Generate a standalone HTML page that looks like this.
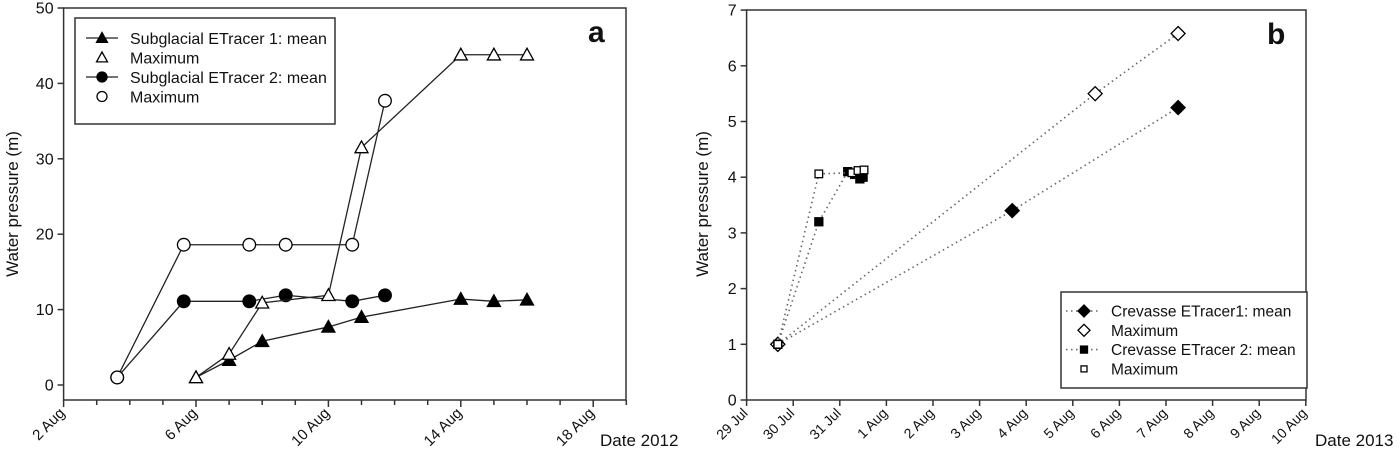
<!DOCTYPE html>
<html><head><meta charset="utf-8"><style>
body{margin:0;background:#fff;}
svg text{font-family:"Liberation Sans",Arial,sans-serif;fill:#111;}
</style></head><body>
<svg width="1400" height="458" viewBox="0 0 1400 458" xmlns="http://www.w3.org/2000/svg">
<g id="pa"></g>
<g id="pb"></g>
</svg>
<script>
// Panel a data (x = day of Aug 2012)
const aTickDays = [2,6,10,14,18];
const aTickLabels = ["2 Aug","6 Aug","10 Aug","14 Aug","18 Aug"];
const aYTicks = [0,10,20,30,40,50];
const t1MeanX = [6,7,8,10,11,14,15,16];
const t1MeanY = [1,3.3,5.8,7.7,9.0,11.4,11.1,11.3];
const t1MaxX = [6,7,8,10,11,14,15,16];
const t1MaxY = [1,4.1,10.9,11.9,31.5,43.8,43.8,43.8];
const t2MeanX = [3.62,5.63,7.61,8.71,10.72,11.71];
const t2MeanY = [1,11.1,11.1,11.9,11.1,11.9];
const t2MaxX = [3.62,5.63,7.61,8.71,10.72,11.71];
const t2MaxY = [1,18.6,18.6,18.6,18.6,37.7];
// Panel b data (x = days since 29 Jul 2013)
const bTickLabels = ["29 Jul","30 Jul","31 Jul","1 Aug","2 Aug","3 Aug","4 Aug","5 Aug","6 Aug","7 Aug","8 Aug","9 Aug","10 Aug"];
const bYTicks = [0,1,2,3,4,5,6,7];
const c1MeanX = [0.67,5.7,9.26];
const c1MeanY = [1,3.4,5.25];
const c1MaxX = [0.67,7.48,9.26];
const c1MaxY = [1,5.5,6.58];
const c2MeanX = [0.67,1.55,2.17,2.32,2.43,2.5];
const c2MeanY = [1,3.2,4.1,4.05,3.97,4.0];
const c2MaxX = [0.67,1.55,2.26,2.39,2.52];
const c2MaxY = [1,4.06,4.08,4.12,4.13];

const NS="http://www.w3.org/2000/svg";
function mk(parent,tag,attrs,text){const e=document.createElementNS(NS,tag);for(const k in attrs)e.setAttribute(k,attrs[k]);if(text!==undefined)e.textContent=text;parent.appendChild(e);return e;}

// ---- Panel a
const pa=document.getElementById('pa');
const axL=63.6, axT=8, axR=626, axB=400;
const ax=d=>axL+(d-2)*33.1;
const ay=v=>385-v*7.54;
let fr=mk(pa,'rect',{x:axL,y:axT,width:axR-axL,height:axB-axT,fill:'none',stroke:'#333','stroke-width':1.5});

aYTicks.forEach(v=>{mk(pa,'line',{x1:axL-6,x2:axL,y1:ay(v),y2:ay(v),stroke:'#333','stroke-width':1.5});
 const t=mk(pa,'text',{x:axL-10,y:ay(v)+5.5,'font-size':16,'text-anchor':'end'},v);
 });
for(let d=2;d<=19;d++){mk(pa,'line',{x1:ax(d),x2:ax(d),y1:axB,y2:axB+(d%4==2?7:5),stroke:'#333','stroke-width':1.5});}
aTickDays.forEach((d,i)=>{const t=mk(pa,'text',{x:ax(d)+2,y:axB+14,'font-size':15,'text-anchor':'end',transform:`rotate(-45 ${ax(d)+2} ${axB+14})`},aTickLabels[i]);
 });
let tt=mk(pa,'text',{x:18,y:204,'font-size':17,'text-anchor':'middle',transform:'rotate(-90 18 204)'},'Water pressure (m)');

tt=mk(pa,'text',{x:600,y:446,'font-size':17},'Date 2012');

tt=mk(pa,'text',{x:588,y:42,'font-size':30,'font-weight':'bold'},'a');


function tri(g,x,y,fill,s){return mk(g,'polygon',{points:`${x},${y-s} ${x-s},${y+s*0.8} ${x+s},${y+s*0.8}`,fill:fill,stroke:'#000','stroke-width':1.3});}
function circ(g,x,y,fill,r){return mk(g,'circle',{cx:x,cy:y,r:r,fill:fill,stroke:'#000','stroke-width':1.3});}
function series(par,name,xs,ys,fx,fy,dash,marker){const g=mk(par,'g',{});
 
 const pts=xs.map((x,i)=>fx(x)+','+fy(ys[i])).join(' ');
 const pl=mk(g,'polyline',{points:pts,fill:'none',stroke:dash?'#666':'#222','stroke-width':dash?1.6:1.3,'stroke-dasharray':dash?'1.5 3.5':'none'});
 
 xs.forEach((x,i)=>{const m=marker(g,fx(x),fy(ys[i]));});}
series(pa,'tracer2-mean',t2MeanX,t2MeanY,ax,ay,false,(g,x,y)=>circ(g,x,y,'#000',6.3));
series(pa,'tracer1-mean',t1MeanX,t1MeanY,ax,ay,false,(g,x,y)=>tri(g,x,y,'#000',6.5));
series(pa,'tracer2-max',t2MaxX,t2MaxY,ax,ay,false,(g,x,y)=>circ(g,x,y,'#fff',6.3));
series(pa,'tracer1-max',t1MaxX,t1MaxY,ax,ay,false,(g,x,y)=>tri(g,x,y,'#fff',6.5));

// legend a
const lg=mk(pa,'g',{});
mk(lg,'rect',{x:75,y:18,width:260,height:106,fill:'#fff',stroke:'#333','stroke-width':1.5});
const la=[['Subglacial ETracer 1: mean',1,'t'],['Maximum',0,'t'],['Subglacial ETracer 2: mean',1,'c'],['Maximum',0,'c']];
la.forEach((e,i)=>{const y=38+i*19.5;const g=mk(lg,'g',{});
 
 if(e[1])mk(g,'line',{x1:86,x2:118,y1:y,y2:y,stroke:'#222','stroke-width':1.3});
 if(e[2]=='t')tri(g,102,y,e[1]?'#000':'#fff',5.5);else circ(g,102,y,e[1]?'#000':'#fff',5);
 mk(g,'text',{x:130,y:y+6,'font-size':16},e[0]);});

// ---- Panel b
const pb=document.getElementById('pb');
const bL=746.6,bT=10,bR=1306,bB=400;
const bx=d=>bL+d*46.6;
const by=v=>400-v*55.7;
fr=mk(pb,'rect',{x:bL,y:bT,width:bR-bL,height:bB-bT,fill:'none',stroke:'#333','stroke-width':1.5});

bYTicks.forEach(v=>{mk(pb,'line',{x1:bL-6,x2:bL,y1:by(v),y2:by(v),stroke:'#333','stroke-width':1.5});
 const t=mk(pb,'text',{x:bL-10,y:by(v)+5.5,'font-size':16,'text-anchor':'end'},v);
 });
bTickLabels.forEach((l,i)=>{mk(pb,'line',{x1:bx(i),x2:bx(i),y1:bB,y2:bB+6,stroke:'#333','stroke-width':1.5});
 const t=mk(pb,'text',{x:bx(i)+2,y:bB+14,'font-size':14,'text-anchor':'end',transform:`rotate(-45 ${bx(i)+2} ${bB+14})`},l);
 });
tt=mk(pb,'text',{x:708,y:204,'font-size':17,'text-anchor':'middle',transform:'rotate(-90 708 204)'},'Water pressure (m)');

tt=mk(pb,'text',{x:1315,y:446,'font-size':17},'Date 2013');

tt=mk(pb,'text',{x:1267,y:44,'font-size':30,'font-weight':'bold'},'b');

function dia(g,x,y,fill,s){return mk(g,'polygon',{points:`${x},${y-s} ${x+s},${y} ${x},${y+s} ${x-s},${y}`,fill:fill,stroke:'#000','stroke-width':1.3});}
function sq(g,x,y,fill,s){return mk(g,'rect',{x:x-s,y:y-s,width:2*s,height:2*s,fill:fill,stroke:'#000','stroke-width':1.3});}
series(pb,'crevasse1-mean',c1MeanX,c1MeanY,bx,by,true,(g,x,y)=>dia(g,x,y,'#000',7));
series(pb,'crevasse1-max',c1MaxX,c1MaxY,bx,by,true,(g,x,y)=>dia(g,x,y,'#fff',7));
series(pb,'crevasse2-mean',c2MeanX,c2MeanY,bx,by,true,(g,x,y)=>sq(g,x,y,'#000',4));
series(pb,'crevasse2-max',c2MaxX,c2MaxY,bx,by,true,(g,x,y)=>sq(g,x,y,'#fff',3.8));

const lb=mk(pb,'g',{});
mk(lb,'rect',{x:1061,y:292,width:246,height:96,fill:'#fff',stroke:'#333','stroke-width':1.5});
const lbe=[['Crevasse ETracer1: mean',1,'d'],['Maximum',0,'d'],['Crevasse ETracer 2: mean',1,'s'],['Maximum',0,'s']];
lbe.forEach((e,i)=>{const y=311+i*19.3;const g=mk(lb,'g',{});
 
 if(e[1])mk(g,'line',{x1:1066,x2:1100,y1:y,y2:y,stroke:'#666','stroke-width':1.6,'stroke-dasharray':'1.5 3.5'});
 if(e[2]=='d')dia(g,1084,y,e[1]?'#000':'#fff',6);else sq(g,1084,y,e[1]?'#000':'#fff',e[1]?3.5:3);
 mk(g,'text',{x:1111,y:y+5.5,'font-size':15.5},e[0]);});
</script>
</body></html>
